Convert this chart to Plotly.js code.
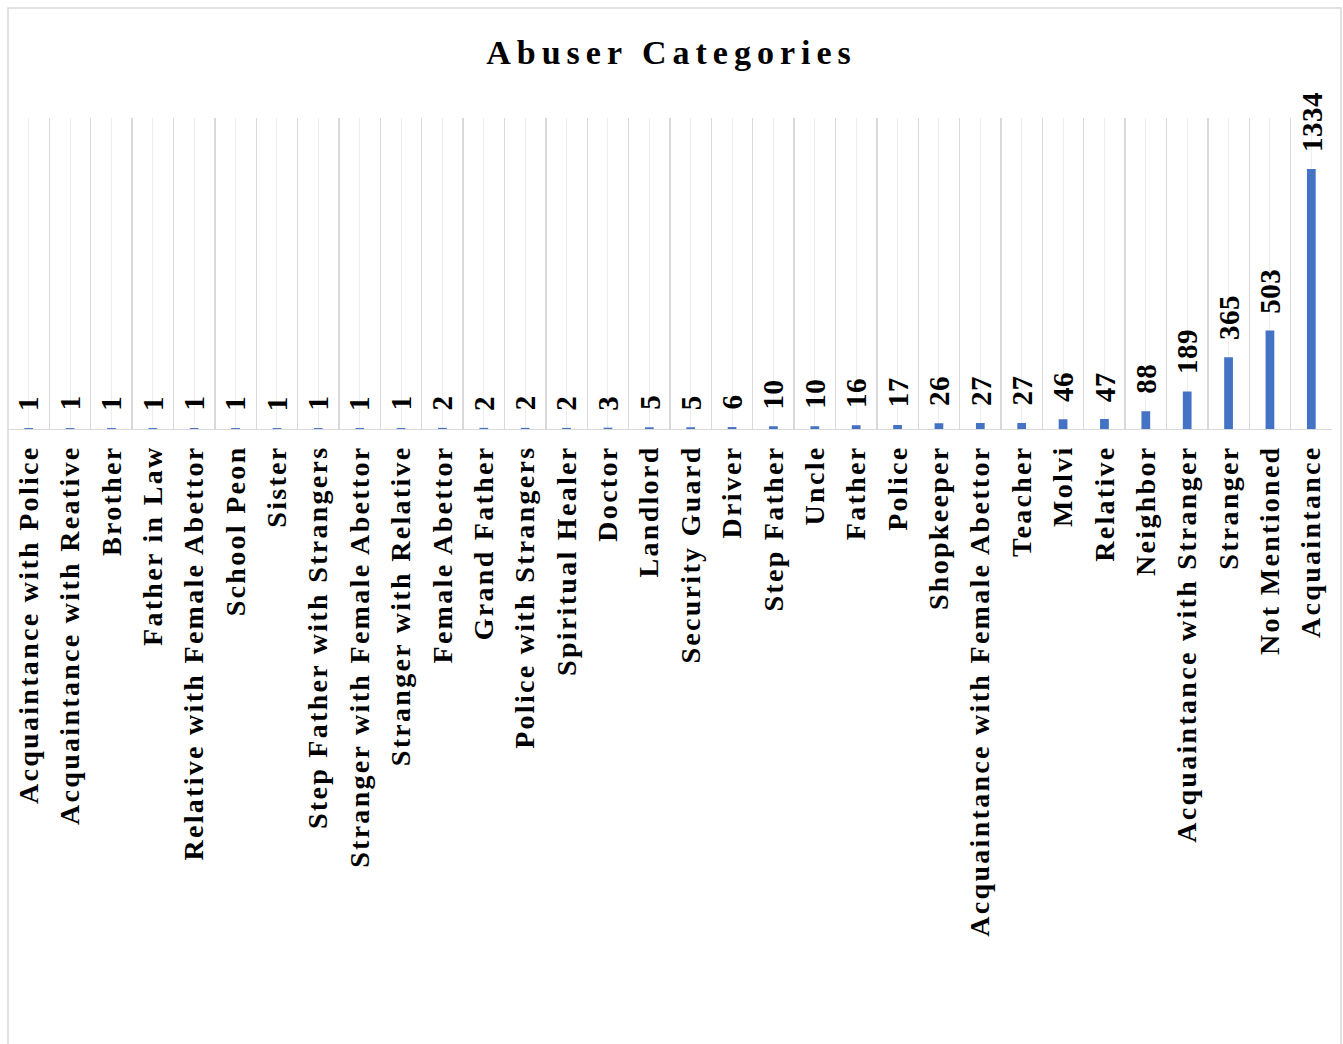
<!DOCTYPE html>
<html>
<head>
<meta charset="utf-8">
<script src="https://cdn.plot.ly/plotly-3.0.1.min.js"></script>
<style>
  html, body { margin: 0; padding: 0; background: #fff; }
  #chart { width: 1343px; height: 1044px; }
  .xtick text { letter-spacing: 2.3px; }
  .gtitle { letter-spacing: 6px; }
  .annotation-text { letter-spacing: 0.5px; }
</style>
</head>
<body>
<div id="chart"></div>
<script>
const categories = [
  "Acquaintance with Police", "Acquaintance with Reative", "Brother", "Father in Law",
  "Relative with Female Abettor", "School Peon", "Sister", "Step Father with Strangers",
  "Stranger with Female Abettor", "Stranger with Relative", "Female Abettor", "Grand Father",
  "Police with Strangers", "Spiritual Healer", "Doctor", "Landlord", "Security Guard",
  "Driver", "Step Father", "Uncle", "Father", "Police", "Shopkeeper",
  "Acquaintance with Female Abettor", "Teacher", "Molvi", "Relative", "Neighbor",
  "Acquaintance with Stranger", "Stranger", "Not Mentioned", "Acquaintance"
];
const values = [1, 1, 1, 1, 1, 1, 1, 1, 1, 1, 2, 2, 2, 2, 3, 5, 5, 6, 10, 10, 16, 17, 26, 27, 27, 46, 47, 88, 189, 365, 503, 1334];
const chartTitle = "Abuser Categories";

const idx = categories.map((_, i) => i);
const serif = "Liberation Serif";
const blue = "#4472C4";

const trace = {
  type: "bar",
  x: idx,
  y: values,
  width: 0.175,
  marker: { color: blue, line: { color: blue, width: 1.5 } },
  hoverinfo: "x+y"
};

const annotations = values.map((v, i) => ({
  x: i, y: v, xref: "x", yref: "y",
  text: String(v),
  showarrow: false,
  textangle: -90,
  xanchor: "center",
  yanchor: "bottom",
  yshift: 16,
  font: { family: serif, size: 29, color: "#000", weight: 700 }
}));

const layout = {
  width: 1343, height: 1044,
  margin: { l: 8, r: 11, t: 118, b: 615, pad: 0 },
  paper_bgcolor: "#fff", plot_bgcolor: "#fff",
  showlegend: false,
  title: {
    text: chartTitle,
    x: 0.5, xref: "container", xanchor: "center",
    y: 1 - 52 / 1044, yref: "container", yanchor: "middle",
    font: { family: serif, size: 34, color: "#000", weight: 700 }
  },
  xaxis: {
    type: "linear",
    range: [-0.5, categories.length - 0.5],
    tickmode: "array",
    tickvals: idx,
    ticktext: categories,
    tickangle: -90,
    ticks: "",
    ticklabelstandoff: 4,
    tickfont: { family: serif, size: 28, color: "#000", weight: 700 },
    showgrid: true, gridcolor: "#ededed", gridwidth: 1,
    minor: { tickmode: "linear", tick0: -0.5, dtick: 1, showgrid: true, gridcolor: "#d9d9d9", gridwidth: 1.3, ticks: "" },
    showline: true, linecolor: "#d9d9d9", linewidth: 1.3,
    zeroline: false,
    automargin: false,
    fixedrange: true
  },
  yaxis: {
    range: [0, 1600],
    showticklabels: false, showgrid: false, zeroline: false, showline: false,
    ticks: "",
    automargin: false,
    fixedrange: true
  },
  shapes: [{
    type: "rect", xref: "paper", yref: "paper",
    x0: 0, x1: (1341 - 8) / 1324,
    y0: -2.2, y1: (429 - 8) / 311,
    line: { color: "#d9d9d9", width: 1.5 },
    fillcolor: "rgba(0,0,0,0)",
    layer: "below"
  }],
  annotations: annotations
};

Plotly.newPlot("chart", [trace], layout, { displayModeBar: false, staticPlot: true });
</script>
</body>
</html>
